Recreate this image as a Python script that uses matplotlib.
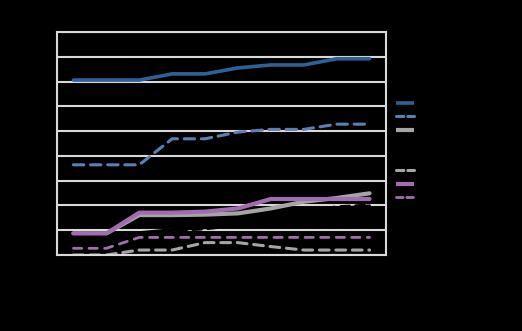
import matplotlib
matplotlib.use("Agg")
import matplotlib.pyplot as plt
from matplotlib.lines import Line2D

categories = list(range(1, 11))
s_blue_solid = [7.06, 7.06, 7.06, 7.31, 7.31, 7.55, 7.67, 7.67, 7.92, 7.92]
s_blue_dash = [3.64, 3.64, 3.64, 4.69, 4.69, 4.96, 5.07, 5.07, 5.28, 5.28]
s_grey_solid = [0.87, 0.87, 1.61, 1.61, 1.63, 1.68, 1.88, 2.15, 2.30, 2.49]
s_black_solid = [0.75, 0.75, 0.9, 1.02, 1.1, 1.25, 1.45, 1.7, 1.88, 1.98]
s_black_dash = [0.6, 0.6, 0.85, 0.98, 1.05, 1.2, 1.5, 1.75, 1.95, 2.02]
s_grey_dash = [0.0, 0.0, 0.2, 0.2, 0.5, 0.5, 0.34, 0.2, 0.2, 0.2]
s_purple_solid = [0.87, 0.87, 1.71, 1.71, 1.75, 1.88, 2.26, 2.26, 2.26, 2.26]
s_purple_dash = [0.27, 0.27, 0.71, 0.71, 0.71, 0.71, 0.71, 0.71, 0.71, 0.71]

fig = plt.figure(figsize=(5.22, 3.31), dpi=100, facecolor="black")
ax = fig.add_axes([57/522, 76/331, 329/522, 223/331])
ax.set_facecolor("black")

grid_c = "#D9D9D9"
x = list(range(len(categories)))

series = [
    (s_blue_solid, "#2D6299", 2.6, None),
    (s_blue_dash, "#5B80B0", 2.2, (0, (3.4, 2.2))),
    (s_grey_solid, "#A5A5A5", 3.0, None),
    (s_black_solid, "#000000", 2.2, None),
    (s_black_dash, "#000000", 2.0, (0, (3.2, 2.2))),
    (s_grey_dash, "#A5A5A5", 2.2, (0, (3.2, 2.2))),
    (s_purple_solid, "#A46BB2", 3.0, None),
    (s_purple_dash, "#A070AA", 2.0, (0, (3.0, 2.6))),
]

handles = []
for vals, col, lw, dash in series:
    kw = dict(color=col, lw=lw, solid_capstyle="round", dash_capstyle="round")
    if dash is not None:
        kw["linestyle"] = dash
    ax.plot(x, vals, **kw)
    hkw = dict(color=col, lw=lw, solid_capstyle="butt", dash_capstyle="round")
    if dash is not None:
        hkw["linestyle"] = (0, (2.4, 1.3))
    handles.append(Line2D([0], [0], **hkw))

ax.set_xlim(-0.5, len(categories) - 0.5)
ax.set_ylim(0, 9)
ax.set_yticks(range(0, 10))
ax.set_xticks(x)
ax.tick_params(length=0, labelleft=False, labelbottom=False)
ax.grid(axis="y", color=grid_c, lw=1.5)
ax.set_axisbelow(True)
for sp in ax.spines.values():
    sp.set_color(grid_c)
    sp.set_linewidth(1.5)

leg = fig.legend(handles, [""] * len(handles), loc="upper left",
                 bbox_to_anchor=(396/522, 1 - 98/331), frameon=False,
                 fontsize=7, handlelength=1.9, labelspacing=0.36,
                 handletextpad=0.2, borderpad=0.0, borderaxespad=0.0)

fig.savefig("out.png", dpi=100, facecolor="black")
